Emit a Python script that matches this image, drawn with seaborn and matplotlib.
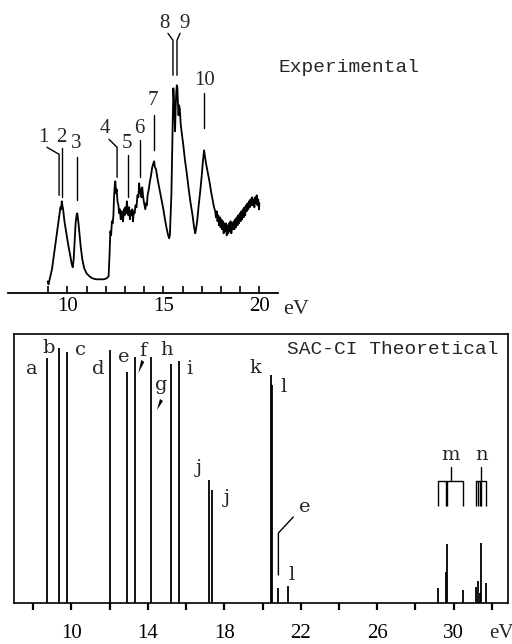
import matplotlib
matplotlib.use("Agg")
import matplotlib.pyplot as plt
import seaborn as sns
import pandas as pd

# -------------------------------
# Data: experimental spectrum
# -------------------------------
exp_ev = [8.98, 9.02, 9.08, 9.20, 9.30, 9.40, 9.50, 9.58, 9.64, 9.68, 9.71, 9.74, 9.78,
          9.85, 9.95, 10.05, 10.15, 10.22, 10.28, 10.33, 10.38, 10.43, 10.48, 10.52,
          10.57, 10.63, 10.70, 10.78, 10.88, 11.00, 11.15, 11.30, 11.50, 11.70, 11.90,
          12.05, 12.15, 12.20, 12.24, 12.28, 12.32, 12.36, 12.40, 12.43, 12.47, 12.50,
          12.53, 12.57, 12.61, 12.66, 12.70, 12.74, 12.78, 12.82, 12.86, 12.90, 12.94,
          12.98, 13.02, 13.06, 13.10, 13.14, 13.18, 13.22, 13.26, 13.30, 13.34, 13.38,
          13.42, 13.46, 13.50, 13.55, 13.60, 13.65, 13.70, 13.74, 13.78, 13.82, 13.86,
          13.90, 13.94, 13.98, 14.02, 14.06, 14.10, 14.14, 14.18, 14.24, 14.30, 14.36,
          14.42, 14.48, 14.52, 14.56, 14.62, 14.70, 14.80, 14.90, 15.00, 15.10, 15.18,
          15.25, 15.30, 15.34, 15.38, 15.42, 15.46, 15.49, 15.52, 15.55, 15.58, 15.61,
          15.64, 15.67, 15.70, 15.73, 15.76, 15.79, 15.82, 15.86, 15.90, 15.96, 16.04,
          16.12, 16.22, 16.32, 16.42, 16.52, 16.60, 16.66, 16.70, 16.76, 16.84, 16.92,
          17.00, 17.06, 17.12, 17.16, 17.22, 17.30, 17.40, 17.50, 17.58, 17.64, 17.70,
          17.74, 17.78, 17.82, 17.86, 17.90, 17.94, 17.98, 18.02, 18.06, 18.10, 18.14,
          18.18, 18.22, 18.26, 18.30, 18.34, 18.38, 18.42, 18.46, 18.50, 18.54, 18.58,
          18.62, 18.66, 18.70, 18.74, 18.78, 18.82, 18.86, 18.90, 18.94, 18.98, 19.02,
          19.06, 19.10, 19.14, 19.18, 19.22, 19.26, 19.30, 19.34, 19.38, 19.42, 19.46,
          19.50, 19.54, 19.58, 19.62, 19.66, 19.70, 19.74, 19.78, 19.82, 19.86, 19.90,
          19.94, 19.98, 20.00]
exp_int = [12, 9, 14, 24, 38, 52, 66, 78, 86, 84, 92, 88, 84,
           72, 60, 48, 38, 30, 26, 34, 52, 70, 78, 80,
           72, 60, 46, 34, 25, 20, 17, 15, 14, 14, 14,
           15, 17, 40, 62, 58, 72, 70, 78, 96, 108, 112,
           100, 104, 92, 88, 80, 84, 74, 82, 76, 72, 84,
           78, 86, 80, 92, 84, 78, 86, 74, 82, 78, 84,
           72, 82, 80, 88, 86, 98, 96, 110, 100, 104, 96,
           106, 98, 92, 88, 84, 90, 88, 98, 104, 112, 118,
           126, 130, 132, 126, 124, 114, 104, 94, 84, 72, 64,
           58, 55, 58, 80, 100, 140, 170, 205, 195, 180, 162,
           185, 200, 208, 206, 190, 178, 188, 184, 170, 160, 148,
           134, 120, 104, 90, 78, 66, 60, 64, 72, 88, 102,
           118, 132, 143, 138, 130, 122, 112, 100, 92, 86, 82,
           76, 82, 72, 78, 68, 76, 66, 74, 64, 72, 60,
           70, 62, 70, 58, 68, 60, 70, 62, 72, 60, 70,
           64, 72, 64, 74, 66, 76, 68, 78, 70, 80, 72,
           82, 74, 84, 76, 86, 78, 88, 82, 90, 84, 92,
           86, 94, 88, 96, 88, 94, 86, 96, 90, 98, 88,
           94, 84, 90]

# experimental band assignments (leader positions, eV)
peak_labels = ['1', '2', '3', '4', '5', '6', '7', '8', '9', '10']
peak_ev = [9.57, 9.71, 10.48, 12.59, 13.14, 13.79, 14.49, 15.50, 15.71, 17.12]

# -------------------------------
# Data: SAC-CI theoretical stick spectrum
# -------------------------------
stick_ev = [8.73, 9.35, 9.78, 12.02, 12.89, 13.32, 14.15, 15.23, 15.64, 17.21, 17.36,
            20.43, 20.51, 20.83, 21.35,
            29.20, 29.59, 29.66, 30.49,
            31.19, 31.27, 31.36, 31.43, 31.71]
stick_int = [245, 255, 251, 253, 231, 246, 246, 239, 242, 123, 113,
             228, 218, 15, 17,
             15, 31, 59, 13,
             16, 22, 10, 60, 20]
stick_labels = ['a', 'b', 'c', 'd', 'e', 'f', 'g', 'h', 'i', 'j', 'j',
                'k', 'l', 'e', 'l']
group_m = [29.20, 29.59, 29.66, 30.49]
group_n = [31.19, 31.27, 31.36, 31.43, 31.71]

top_ticks = list(range(9, 21))
top_ticklabels = ['10', '15', '20']
bot_major = [10, 14, 18, 22, 26, 30]
bot_minor = [8, 12, 16, 20, 24, 28, 32]

# -------------------------------
# Style
# -------------------------------
sns.set_theme(style="white")
plt.rcParams['font.family'] = ['DejaVu Serif']
SERIF = 'Liberation Serif'
MONO = 'Liberation Mono'
LET = 'DejaVu Serif'

fig = plt.figure(figsize=(5.12, 6.44), dpi=100)
W, H = 512.0, 644.0

# -------------------------------
# Top panel: experimental
# -------------------------------
ax1 = fig.add_axes([8 / W, (H - 293.3) / H, 270 / W, 293.3 / H])
df_exp = pd.DataFrame({'eV': exp_ev, 'I': exp_int})
sns.lineplot(data=df_exp, x='eV', y='I', ax=ax1, color='black', lw=1.3,
             sort=False, estimator=None)
ax1.set_xlim(6.91, 20.97)
ax1.set_ylim(0, 293.3)
for s in ['left', 'right', 'top']:
    ax1.spines[s].set_visible(False)
ax1.spines['bottom'].set_linewidth(1.3)
ax1.spines['bottom'].set_color('black')
ax1.set_xticks(top_ticks)
ax1.set_xticklabels([str(t) if str(t) in top_ticklabels else '' for t in top_ticks],
                    family=SERIF, fontsize=15)
ax1.set_yticks([])
ax1.tick_params(axis='x', direction='in', length=5, width=1.2, pad=3,
                colors='black', bottom=True)
ax1.set_xlabel('')
ax1.set_ylabel('')

# leader layout: text position and polyline (eV, intensity)
top_layout = {
    '1': ((8.73, 156), [(8.94, 146), (9.57, 139), (9.57, 98)]),
    '2': ((9.67, 156), [(9.71, 145), (9.71, 96)]),
    '3': ((10.45, 150), [(10.48, 136), (10.48, 93)]),
    '4': ((11.96, 165), [(12.17, 154), (12.59, 146), (12.59, 116)]),
    '5': ((13.11, 150), [(13.14, 138), (13.14, 96)]),
    '6': ((13.73, 165), [(13.79, 153), (13.79, 116)]),
    '7': ((14.46, 193), [(14.49, 178), (14.49, 143)]),
    '8': ((15.04, 270), [(15.24, 260), (15.50, 253), (15.50, 218)]),
    '9': ((16.08, 270), [(15.87, 260), (15.71, 253), (15.71, 218)]),
    '10': ((17.12, 213), [(17.12, 200), (17.12, 165)]),
}
for lab, x in zip(peak_labels, peak_ev):
    (tx, ty), pts = top_layout[lab]
    xs = [p[0] for p in pts[:-2]] + [x, x]
    ys = [p[1] for p in pts]
    ax1.plot(xs, ys, color='black', lw=1.0, clip_on=False)
    ax1.text(tx, ty, lab, ha='center', va='center', family=SERIF, fontsize=15,
             clip_on=False)

fig.text(278 / W, 1 - 67 / H, 'Experimental', ha='left', va='center',
         family=MONO, fontsize=14)
fig.text(296 / W, 1 - 309 / H, 'eV', ha='center', va='center',
         family=SERIF, fontsize=16)

# -------------------------------
# Bottom panel: SAC-CI theoretical
# -------------------------------
ax2 = fig.add_axes([14 / W, (H - 603) / H, 494 / W, 269 / H])
ax2.vlines(stick_ev, 0, stick_int, color='black', lw=1.3)
ax2.set_xlim(6.99, 32.85)
ax2.set_ylim(0, 269)
for s in ax2.spines.values():
    s.set_visible(True)
    s.set_color('black')
    s.set_linewidth(1.2)
ax2.set_xticks(bot_major)
ax2.set_xticklabels([str(t) for t in bot_major], family=SERIF, fontsize=15)
ax2.set_xticks(bot_minor, minor=True)
ax2.set_yticks([])
ax2.tick_params(axis='x', which='both', direction='out', length=5, width=1.6,
                colors='black', bottom=True)
ax2.tick_params(axis='x', which='major', pad=10)

stick_text_pos = [(7.92, 234), (8.79, 255), (10.45, 253), (11.40, 234),
                  (12.71, 246), (13.73, 252), (14.72, 218), (14.98, 253),
                  (16.17, 234), (16.68, 135), (18.14, 105),
                  (19.61, 235), (21.08, 216), (22.23, 96), (21.54, 28)]
for lab, (tx, ty) in zip(stick_labels, stick_text_pos):
    ax2.text(tx, ty, lab, ha='center', va='center', family=LET, fontsize=14)

# small wedge pointers for f and g
for (x0, y0, x1, y1) in [(13.74, 243, 13.50, 230), (14.72, 204, 14.47, 193)]:
    ax2.fill([x0 - 0.09, x0 + 0.07, x1], [y0, y0 - 2, y1], color='black', lw=0)

# leader to the weak e line
e_x = stick_ev[13]
ax2.plot([21.61, e_x, e_x], [86, 70, 28], color='black', lw=1.0)

# brackets for the m and n groups
for lab, grp in [('m', group_m), ('n', group_n)]:
    lo, hi = min(grp), max(grp)
    mid = (lo + hi) / 2
    ax2.plot([lo, hi], [122, 122], color='black', lw=1.0)
    ax2.plot([mid, mid], [122, 136], color='black', lw=1.0)
    ax2.vlines(grp, 97, 122, color='black', lw=1.0)
    ax2.text(mid, 148, lab, ha='center', va='center', family=LET, fontsize=14)

ax2.text(32.33, 253, 'SAC-CI Theoretical', ha='right', va='center',
         family=MONO, fontsize=14)
fig.text(501 / W, 1 - 634 / H, 'eV', ha='center', va='center',
         family=SERIF, fontsize=15)

fig.savefig('out.png', dpi=100)
